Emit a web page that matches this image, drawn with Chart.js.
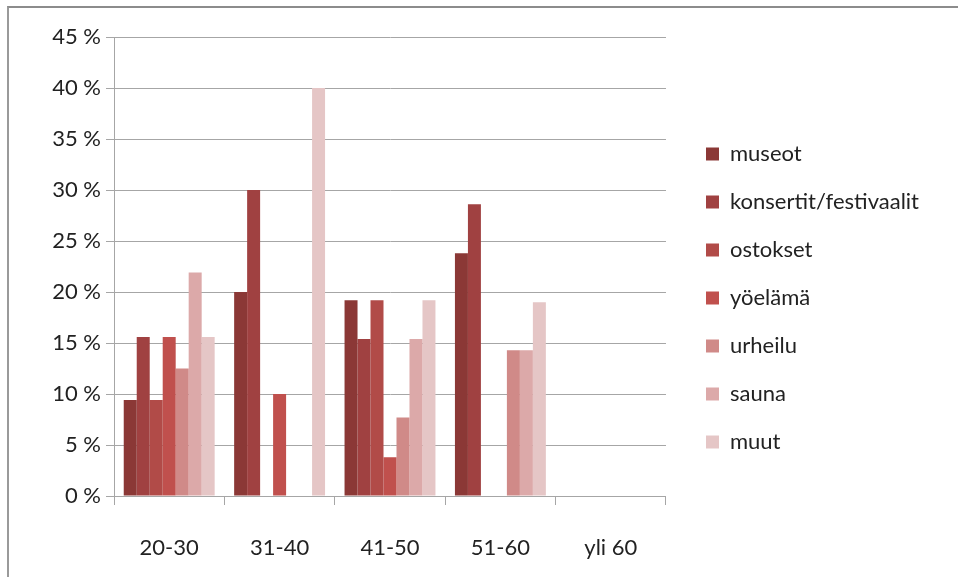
<!DOCTYPE html>
<html>
<head>
<meta charset="utf-8">
<script src="https://cdn.jsdelivr.net/npm/chart.js@4.4.1/dist/chart.umd.min.js"></script>
<style>
  html, body { margin: 0; padding: 0; background: #fff; }
  #wrap { position: relative; width: 958px; height: 577px; overflow: hidden; }
  #frame { position: absolute; left: 7px; top: 6px; width: 1000px; height: 600px;
           border-top: 2px solid #8c8c8c; border-left: 2px solid #9a9a9a; pointer-events: none; }
  canvas { position: absolute; left: 0; top: 0; }
</style>
</head>
<body>
<div id="wrap">
  <canvas id="chart" width="958" height="577"></canvas>
  <div id="frame"></div>
</div>
<script>
// age groups
var categories = ["20-30", "31-40", "41-50", "51-60", "yli 60"];

// share of answers per group, %
var museot     = [9.4, 20, 19.2, 23.8, 0];
var konsertit  = [15.6, 30, 15.4, 28.6, 0];
var ostokset   = [9.4, 0, 19.2, 0, 0];
var yoelama    = [15.6, 10, 3.8, 0, 0];
var urheilu    = [12.5, 0, 7.7, 14.3, 0];
var sauna      = [21.9, 0, 15.4, 14.3, 0];
var muut       = [15.6, 40, 19.2, 19.0, 0];

var seriesNames = ["museot", "konsertit/festivaalit", "ostokset", "yöelämä", "urheilu", "sauna", "muut"];
var seriesValues = [museot, konsertit, ostokset, yoelama, urheilu, sauna, muut];
var seriesColors = ["#8b3836", "#a04141", "#b14b48", "#c0504d", "#d08a88", "#dca9a9", "#e5c6c6"];

var yTicks = [0, 5, 10, 15, 20, 25, 30, 35, 40, 45];

var FONT = "Lato";
var FONT_SIZE = 22;
var gridColor = "#a6a6a6";

var datasets = seriesNames.map(function(name, i) {
  return {
    label: name,
    data: seriesValues[i],
    backgroundColor: seriesColors[i],
    borderWidth: 0,
    categoryPercentage: 7 / 8.5,
    barPercentage: 1
  };
});

var chart = new Chart(document.getElementById("chart"), {
  type: "bar",
  data: { labels: categories, datasets: datasets },
  options: {
    responsive: false,
    animation: false,
    layout: { padding: { left: 0, top: 37, right: 29, bottom: 18 } },
    plugins: {
      tooltip: { enabled: false },
      legend: {
        position: "right",
        align: "center",
        maxWidth: 400,
        labels: {
          boxWidth: 13,
          boxHeight: 13,
          padding: 26,
          color: "#222",
          font: { family: FONT, size: FONT_SIZE }
        }
      }
    },
    scales: {
      x: {
        grid: { display: true, drawOnChartArea: false, offset: true, color: gridColor, tickLength: 9 },
        border: { color: gridColor },
        ticks: { color: "#222", padding: 30, font: { family: FONT, size: FONT_SIZE } },
        // tall enough so the "y" descender is not clipped
        afterFit: function(s) { s.height = 63; }
      },
      y: {
        min: 0,
        max: 45,
        afterBuildTicks: function(s) { s.ticks = yTicks.map(function(v) { return { value: v }; }); },
        grid: { color: gridColor, tickLength: 8 },
        border: { color: gridColor },
        ticks: {
          color: "#222",
          padding: 5,
          font: { family: FONT, size: FONT_SIZE },
          callback: function(v) { return v + " %"; }
        },
        afterFit: function(s) { s.width = 114; }
      },
      // empty axis, only keeps a gap between plot and legend
      gap: {
        type: "linear",
        position: "right",
        display: true,
        grid: { display: false },
        border: { display: false },
        ticks: { display: false },
        afterFit: function(s) { s.width = 14; }
      }
    }
  }
});
</script>
</body>
</html>
